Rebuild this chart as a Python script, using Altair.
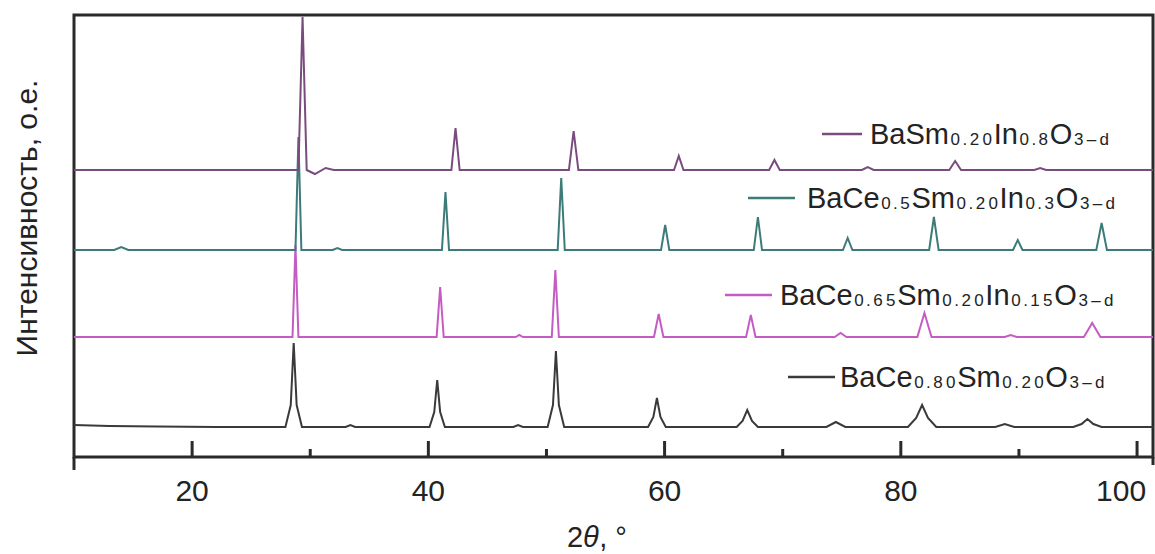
import altair as alt
import pandas as pd

# ---------------- data ----------------
series_names = ["BaCe0.80Sm0.20O3-d", "BaCe0.65Sm0.20In0.15O3-d",
                "BaCe0.5Sm0.20In0.3O3-d", "BaSm0.20In0.8O3-d"]
series_colors = ["#3a3a3a", "#c55cc4", "#3d7b79", "#7a4b7e"]

black_x = [10, 13, 17, 22,
           27.9, 28.35, 28.6, 28.85, 29.3,
           33.0, 33.4, 33.8,
           40.1, 40.5, 40.75, 41.0, 41.4,
           47.2, 47.6, 48.0,
           50.1, 50.55, 50.8, 51.05, 51.5,
           58.6, 59.05, 59.35, 59.65, 60.1,
           66.1, 66.6, 67.0, 67.4, 67.9,
           73.7, 74.5, 75.3,
           80.6, 81.3, 81.8, 82.3, 83.0,
           88.0, 88.8, 89.6,
           94.6, 95.3, 95.8, 96.3, 97.0,
           101.35]
black_y = [32, 31, 30.5, 30,
           30, 52, 114, 52, 30,
           30, 32, 30,
           30, 45, 77, 45, 30,
           30, 32, 30,
           30, 52, 106, 52, 30,
           30, 40, 59, 40, 30,
           30, 36, 47, 36, 30,
           30, 35, 30,
           30, 39, 52, 39, 30,
           30, 33, 30,
           30, 33, 38, 33, 30,
           30]

pink_x = [10, 28.5, 28.75, 29.0, 40.7, 41.0, 41.3, 47.4, 47.7, 48.0, 50.45, 50.75, 51.05,
          59.1, 59.5, 59.9, 66.9, 67.3, 67.7, 74.4, 74.9, 75.4, 81.4, 82.0, 82.6,
          88.8, 89.3, 89.8, 95.5, 96.2, 96.9, 101.35]
pink_y = [120, 120, 212, 120, 120, 170, 120, 120, 122, 120, 120, 187, 120, 120, 143, 120,
          120, 142, 120, 120, 124, 120, 120, 144, 120, 120, 122, 120, 120, 134, 120, 120]

teal_x = [10, 13.4, 14.0, 14.6, 28.75, 29.0, 29.25, 31.9, 32.3, 32.7, 41.15, 41.45, 41.75,
          50.95, 51.25, 51.55, 59.7, 60.05, 60.4, 67.55, 67.9, 68.25, 75.1, 75.5, 75.9,
          82.4, 82.8, 83.2, 89.5, 89.9, 90.3, 96.55, 97.0, 97.45, 101.35]
teal_y = [207, 207, 210, 207, 207, 320, 207, 207, 209, 207, 207, 265, 207, 207, 279, 207,
          207, 232, 207, 207, 240, 207, 207, 219, 207, 207, 240, 207, 207, 217, 207, 207,
          234, 207, 207]

purple_x = [10, 29.0, 29.35, 29.7, 30.4, 31.3, 32.0, 41.95, 42.3, 42.65, 51.9, 52.3, 52.7,
            60.8, 61.2, 61.6, 68.85, 69.3, 69.75, 76.7, 77.2, 77.7, 84.1, 84.6, 85.1,
            91.3, 91.8, 92.3, 101.35]
purple_y = [287, 287, 440, 287, 283, 289, 287, 287, 329, 287, 287, 326, 287, 287, 301, 287,
            287, 297, 287, 287, 290, 287, 287, 296, 287, 287, 289, 287, 287]

major_ticks = [20, 40, 60, 80, 100]
minor_ticks = [30, 50, 70, 90]
tick_labels = ["20", "40", "60", "80", "100"]

legend_parts = [
    [("BaCe", 0), ("0.80", 1), ("Sm", 0), ("0.20", 1), ("O", 0), ("3–d", 1)],
    [("BaCe", 0), ("0.65", 1), ("Sm", 0), ("0.20", 1), ("In", 0), ("0.15", 1), ("O", 0), ("3–d", 1)],
    [("BaCe", 0), ("0.5", 1), ("Sm", 0), ("0.20", 1), ("In", 0), ("0.3", 1), ("O", 0), ("3–d", 1)],
    [("BaSm", 0), ("0.20", 1), ("In", 0), ("0.8", 1), ("O", 0), ("3–d", 1)],
]
y_title = "Интенсивность, о.е."
x_title_parts = [("2", 0), ("θ", 1), (", °", 0)]

# ---------------- layout ----------------
W, H = 1079, 442
PAD_L, PAD_T = 74, 15
X0, X1 = 10, 101.35
Y0, Y1 = 0, 442
FONT = "Liberation Sans"
INK = "#232323"


def xd(px):
    return X0 + (px - PAD_L) * (X1 - X0) / W


def yd(py):
    return Y1 - (py - PAD_T) * (Y1 - Y0) / H


PX_PER_DEG = W / (X1 - X0)

# legend placement (pixels): line start, line end, line y, text start, baseline
legend_pos = [
    (788, 835, 377, 840, 387),
    (725, 772, 295, 780, 305),
    (748, 795, 198, 807, 208),
    (822, 862, 134, 870, 144),
]

AW = {"B": .667, "a": .556, "C": .722, "e": .556, "S": .667, "m": .833, "I": .278,
      "n": .556, "O": .778, ".": .278, "–": .556, "d": .556, ",": .278, " ": .278,
      "°": .4, "θ": .556}
for dgt in "0123456789":
    AW[dgt] = .556
MAIN_FS, SUB_FS, SUB_STRETCH = 29, 17, 1.35

main_rows, sub_rows, leg_line_rows = [], [], []
for name, parts, (lx0, lx1, ly, tx, tb) in zip(series_names, legend_parts, legend_pos):
    leg_line_rows.append({"series": name, "x": xd(lx0), "x2": xd(lx1), "y": yd(ly)})
    cur = tx
    for txt, sub in parts:
        if sub:
            for ch in txt:
                adv = AW[ch] * SUB_FS * SUB_STRETCH
                sub_rows.append({"t": ch, "x": xd(cur + adv / 2), "y": yd(tb + 1)})
                cur += adv
        else:
            main_rows.append({"t": txt, "x": xd(cur), "y": yd(tb)})
            cur += sum(AW[c] for c in txt) * MAIN_FS

# tick labels: centred under ticks, the last one pulled left as in the original
TL_FS, TL_BASE = 30, 501
tl_rows = []
for v, lab in zip(major_ticks, tick_labels):
    shift = -16 if v == major_ticks[-1] else 0
    tl_rows.append({"t": lab, "x": v + shift / PX_PER_DEG, "y": yd(TL_BASE)})

# x title "2θ, °"
XT_FS = 29
xt_start, xt_base = 567, 547
xt_norm, xt_ital = [], []
cur = xt_start
for txt, ital in x_title_parts:
    row = {"t": txt, "x": xd(cur), "y": yd(xt_base)}
    (xt_ital if ital else xt_norm).append(row)
    cur += sum(AW[c] for c in txt) * XT_FS

# y title
yt_rows = [{"t": y_title, "x": xd(37), "y": yd(218)}]

# ---------------- chart ----------------
xs = alt.Scale(domain=[X0, X1], nice=False, zero=False)
ys = alt.Scale(domain=[Y0, Y1], nice=False, zero=False)
cs = alt.Scale(domain=series_names, range=series_colors)


def X(f="x:Q"):
    return alt.X(f, scale=xs, axis=None)


def Y(f="y:Q"):
    return alt.Y(f, scale=ys, axis=None)


layers = []
for name, xv, yv in [(series_names[0], black_x, black_y), (series_names[1], pink_x, pink_y),
                     (series_names[2], teal_x, teal_y), (series_names[3], purple_x, purple_y)]:
    df = pd.DataFrame({"x": xv, "y": yv, "series": name, "i": range(len(xv))})
    layers.append(alt.Chart(df).mark_line(strokeWidth=2, clip=True).encode(
        x=X(), y=Y(), color=alt.Color("series:N", scale=cs, legend=None), order="i:Q"))

# ticks (inward) and axis-frame extensions
tick_df = pd.DataFrame({"x": major_ticks + minor_ticks,
                        "y": [0] * 9,
                        "y2": [16] * 5 + [8] * 4})
layers.append(alt.Chart(tick_df).mark_rule(color="#2a2a2a", strokeWidth=3).encode(
    x=X(), y=Y(), y2="y2:Q"))
ext_df = pd.DataFrame({"x": [X0, X1], "y": [0, 0], "y2": [-13, -8]})
layers.append(alt.Chart(ext_df).mark_rule(color="#2a2a2a", strokeWidth=3).encode(
    x=X(), y=Y(), y2="y2:Q"))

# tick labels
layers.append(alt.Chart(pd.DataFrame(tl_rows)).mark_text(
    align="center", baseline="alphabetic", font=FONT, fontSize=TL_FS, color=INK).encode(
    x=X(), y=Y(), text="t:N"))

# legend
layers.append(alt.Chart(pd.DataFrame(leg_line_rows)).mark_rule(strokeWidth=2.5).encode(
    x=X(), x2="x2:Q", y=Y(), color=alt.Color("series:N", scale=cs, legend=None)))
layers.append(alt.Chart(pd.DataFrame(main_rows)).mark_text(
    align="left", baseline="alphabetic", font=FONT, fontSize=MAIN_FS, color=INK).encode(
    x=X(), y=Y(), text="t:N"))
layers.append(alt.Chart(pd.DataFrame(sub_rows)).mark_text(
    align="center", baseline="alphabetic", font=FONT, fontSize=SUB_FS, color=INK).encode(
    x=X(), y=Y(), text="t:N"))

# x title
layers.append(alt.Chart(pd.DataFrame(xt_norm)).mark_text(
    align="left", baseline="alphabetic", font=FONT, fontSize=XT_FS, color=INK).encode(
    x=X(), y=Y(), text="t:N"))
layers.append(alt.Chart(pd.DataFrame(xt_ital)).mark_text(
    align="left", baseline="alphabetic", font=FONT, fontSize=XT_FS, fontStyle="italic",
    color=INK).encode(x=X(), y=Y(), text="t:N"))

# y title
layers.append(alt.Chart(pd.DataFrame(yt_rows)).mark_text(
    align="center", baseline="alphabetic", angle=270, font=FONT, fontSize=30,
    color=INK).encode(x=X(), y=Y(), text="t:N"))

chart = alt.layer(*layers).properties(
    width=W, height=H,
    autosize=alt.AutoSizeParams(type="none"),
    padding={"left": PAD_L, "top": PAD_T, "right": 2, "bottom": 97},
    background="white",
).configure_view(stroke="#2a2a2a", strokeWidth=3)

chart.save("out.html", embed_options={"renderer": "svg", "actions": False})
